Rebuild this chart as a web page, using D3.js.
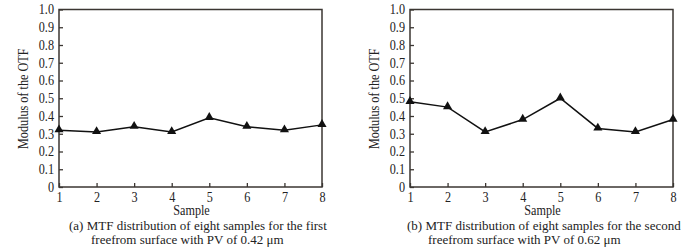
<!DOCTYPE html>
<html><head><meta charset="utf-8">
<script src="https://cdn.jsdelivr.net/npm/d3@7"></script>
<style>body{margin:0;background:#fff}svg{display:block}text{font-family:"Liberation Serif","Times New Roman","DejaVu Serif",serif;fill:#222}</style>
</head><body>
<svg id="c" width="700" height="249"></svg>
<script>
const samples = [1,2,3,4,5,6,7,8];
const seriesA = [0.32,0.31,0.34,0.31,0.39,0.34,0.32,0.35];
const seriesB = [0.48,0.45,0.31,0.38,0.50,0.33,0.31,0.38];
const yTicks = [0,0.1,0.2,0.3,0.4,0.5,0.6,0.7,0.8,0.9,1.0];
const yLabel = "Modulus of the OTF";
const xLabel = "Sample";
const captionsA = ["(a) MTF distribution of eight samples for the first","freefrom surface with PV of 0.42 \u03bcm"];
const captionsB = ["(b) MTF distribution of eight samples for the second","freefrom surface with PV of 0.62 \u03bcm"];

const svg = d3.select("#c");
const axisColor = "#3b3632";
const FS = "14px";
const SX = 0.87;   // Times-like condensed look
const FF = '"Liberation Serif","Times New Roman","DejaVu Serif",serif';

function label(g, x, y, txt, anchor, rot, fs, sx){
  const t = g.append("g").attr("transform", `translate(${x},${y})` + (rot ? ` rotate(${rot})` : "") + ` scale(${sx||SX},1)`);
  t.append("text").attr("text-anchor", anchor).style("font-size", fs||FS).style("font-family", FF).text(txt);
}

function panel(x0, values, caps, capX1, capX2){
  const top = 9.5, bottom = 187, width = 263;
  const x = d3.scaleLinear().domain([1,8]).range([x0, x0+width]);
  const y = d3.scaleLinear().domain([0,1]).range([bottom, top]);
  const g = svg.append("g");
  g.append("rect").attr("x",x0).attr("y",top).attr("width",width).attr("height",bottom-top)
    .attr("fill","none").attr("stroke",axisColor).attr("stroke-width",1.5);
  const ya = g.append("g").attr("transform",`translate(${x0},0)`)
    .call(d3.axisLeft(y).tickValues(yTicks).tickSizeInner(-4).tickSizeOuter(0).tickPadding(0)
      .tickFormat(d=> d===0 ? "0" : d3.format(".1f")(d)));
  ya.select(".domain").remove();
  ya.selectAll("line").attr("stroke",axisColor).attr("stroke-width",1.3);
  ya.selectAll("text").attr("x",0).attr("transform",`translate(-5,0) scale(${SX},1)`)
    .style("font-size",FS).attr("fill","#222").style("font-family",FF);
  const xa = g.append("g").attr("transform",`translate(0,${bottom})`)
    .call(d3.axisBottom(x).tickValues(samples).tickSizeInner(-4).tickSizeOuter(0).tickPadding(5.5)
      .tickFormat(d3.format("d")));
  xa.select(".domain").remove();
  xa.selectAll("line").attr("stroke",axisColor).attr("stroke-width",1.3);
  xa.selectAll("text").attr("transform",`scale(${SX},1)`)
    .style("font-size",FS).attr("fill","#222").style("font-family",FF);
  label(g, x0-31, (top+bottom)/2+0.5, yLabel, "middle", -90);
  label(g, x0+width/2+1, 214.5, xLabel, "middle");
  label(g, capX1, 230, caps[0], "start", 0, "13px", 1.0);
  label(g, capX2, 243.5, caps[1], "start", 0, "13px", 1.0);
  const line = d3.line().x((d,i)=>x(samples[i])).y(d=>y(d));
  g.append("path").datum(values).attr("d",line).attr("fill","none")
    .attr("stroke","#111").attr("stroke-width",1.5);
  g.selectAll(".m").data(values).enter().append("path")
    .attr("d",d3.symbol().type(d3.symbolTriangle).size(36))
    .attr("transform",(d,i)=>`translate(${x(samples[i])},${y(d)-0.5})`)
    .attr("fill","#111");
}
panel(59, seriesA, captionsA, 69, 91);
panel(410, seriesB, captionsB, 407, 428);
</script>
</body></html>
